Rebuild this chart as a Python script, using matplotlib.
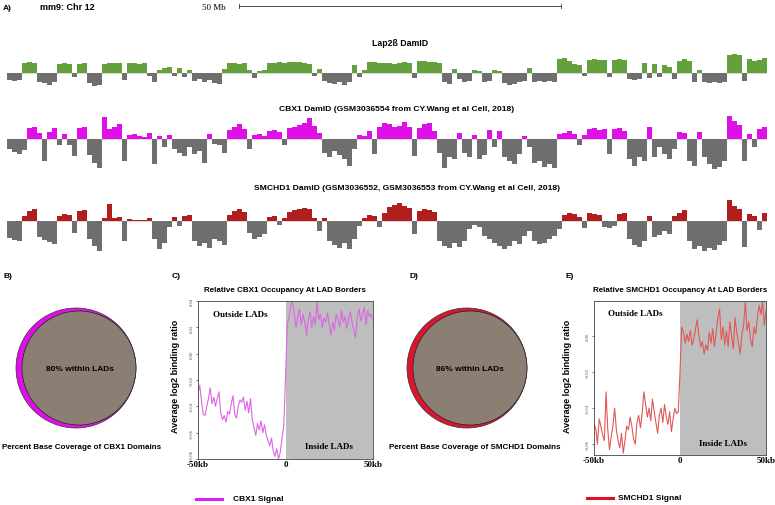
import numpy as np
import matplotlib
matplotlib.use("Agg")
import matplotlib.pyplot as plt
from matplotlib.patches import Circle
from matplotlib.lines import Line2D

# ---- genome tracks (chr12, 5 px bins ~0.78 Mb each), heights in arbitrary units ----
lap2b = [-7, -8, -7, 10, 11, 10, -9, -10, -12, -9, 9, 10, 9, -4, 9, 10, -10, -13, -12, 9,
         10, 10, 10, -7, 10, 10, 9, 10, -3, -9, 3, 5, 6, -3, 5, -4, 3, -8, -6, -9,
         -7, -10, -11, 4, 10, 10, 9, 10, 3, -5, 2, 3, 10, 10, 11, 10, 11, 11, 11, 10,
         9, -3, 4, -8, -10, -11, -9, -12, -9, 8, -4, 3, 11, 11, 10, 10, 10, 9, 10, 11,
         10, -5, 12, 12, 11, 11, 10, -9, -11, 4, -6, -9, -8, 3, 2, -9, -8, 3, 2, -10,
         -12, -11, -9, -8, 5, -9, -8, -9, -8, -9, 14, 15, 12, 9, 8, -3, 13, 14, 13, 13,
         -4, 13, 14, 13, -6, -7, -6, 10, -5, 9, -4, 8, 6, -6, 12, 14, 12, -9, 3, -9,
         -10, -9, -10, -9, 18, 19, 18, -8, 14, 12, 13, 15]
cbx1 = [-10, -13, -15, -11, 11, 12, 6, -22, 7, 11, -6, 5, -6, -17, 11, 12, -16, -24, -29, 22,
        10, 12, 15, -22, 4, 5, 3, 2, 6, -25, 3, -8, 4, -10, -14, -17, -8, -15, -12, -24,
        5, -5, -6, -14, 9, 12, 15, 10, -10, 4, 5, 3, 8, 9, 7, -6, 11, 12, 14, 16,
        21, 13, 6, -14, -18, -12, -16, -20, -27, -10, 4, 3, 8, -15, 12, 16, 15, 12, 13, 17,
        12, -17, 11, 15, 16, 8, -14, -29, -18, -20, 6, -14, -18, 4, -20, -16, 9, -8, 8, -18,
        -22, -25, -15, 3, -8, -24, -22, -28, -25, -29, 5, 6, 8, 5, -6, 4, 10, 11, 9, 10,
        -15, 10, 11, 8, -20, -27, -18, -22, 12, -18, -8, -15, -20, -10, 7, 6, -22, -27, 7, -18,
        -25, -30, -28, -22, 23, 18, 14, -22, 5, -8, 10, 12]
smchd1 = [-17, -19, -20, 5, 10, 12, -16, -19, -21, -23, 5, 7, 6, -12, 10, 11, -18, -25, -30, 3,
          17, 3, 4, -20, 2, 1, 1, 1, 3, -18, -28, -22, -6, 4, -5, 5, 6, -20, -25, -22,
          -27, -18, -20, -24, 6, 10, 12, 9, -12, -18, -16, -13, 4, 5, -4, 3, 9, 11, 12, 13,
          12, 3, -10, 3, -20, -24, -27, -22, -28, -18, -5, 3, 6, 5, -6, 8, 14, 16, 18, 15,
          13, -13, 10, 12, 11, 9, -20, -25, -27, -22, -26, -20, -8, -4, -6, -15, -18, -22, -25, -28,
          -25, -20, -23, -15, -10, -20, -23, -22, -18, -15, -8, 6, 8, 7, 4, -7, 8, 7, 6, -6,
          -7, -5, 7, 8, -18, -24, -26, -20, 5, -16, -14, -10, -13, 5, 8, 11, -20, -28, -25, -30,
          -27, -29, -24, -20, 21, 15, 12, -26, 7, 5, -9, 8]

# ---- average profiles at LAD borders (1 kb steps, -50..50 kb) ----
kb = np.arange(-50, 51)
cbx1_profile = [-0.030, -0.024, -0.036, -0.046, -0.047, -0.040, -0.034, -0.026, -0.038, -0.033,
                -0.040, -0.034, -0.029, -0.045, -0.050, -0.047, -0.052, -0.044, -0.046, -0.038,
                -0.032, -0.046, -0.049, -0.040, -0.035, -0.037, -0.033, -0.043, -0.036, -0.045,
                -0.034, -0.050, -0.056, -0.062, -0.053, -0.058, -0.051, -0.060, -0.054, -0.062,
                -0.066, -0.070, -0.064, -0.074, -0.078, -0.072, -0.080, -0.075, -0.064, -0.055,
                -0.018, 0.022, 0.028, 0.036, 0.040, 0.030, 0.020, 0.028, 0.034, 0.022,
                0.030, 0.024, 0.014, 0.026, 0.032, 0.020, 0.028, 0.022, 0.039, 0.026,
                0.030, 0.020, 0.027, 0.024, 0.031, 0.022, 0.014, 0.024, 0.018, 0.030,
                0.026, 0.020, 0.033, 0.024, 0.028, 0.019, 0.026, 0.032, 0.024, 0.018,
                0.012, 0.028, 0.034, 0.025, 0.030, 0.035, 0.022, 0.033, 0.028, 0.030,
                0.025]
smchd1_profile = [-0.049, -0.051, -0.060, -0.046, -0.050, -0.055, -0.058, -0.031, -0.052, -0.063,
                  -0.056, -0.050, -0.040, -0.052, -0.058, -0.062, -0.054, -0.065, -0.058, -0.050,
                  -0.052, -0.045, -0.050, -0.057, -0.060, -0.048, -0.044, -0.051, -0.043, -0.031,
                  -0.038, -0.045, -0.040, -0.047, -0.035, -0.042, -0.048, -0.054, -0.044, -0.040,
                  -0.048, -0.038, -0.045, -0.049, -0.042, -0.053, -0.046, -0.040, -0.043, -0.042,
                  -0.020, 0.005, 0.002, -0.004, 0.001, -0.003, 0.003, -0.005, -0.002, 0.004,
                  0.009, 0.000, -0.006, -0.003, -0.010, -0.005, -0.008, 0.002, -0.004, 0.004,
                  -0.006, 0.002, 0.010, 0.015, -0.002, 0.005, -0.005, 0.003, -0.006, 0.008,
                  0.000, -0.007, 0.010, 0.002, -0.004, -0.010, 0.001, 0.006, 0.019, 0.003,
                  0.008, -0.002, -0.006, 0.005, 0.001, 0.010, 0.017, 0.012, 0.019, 0.006,
                  0.014]

W, H = 775, 506
BIN_MB = 5 * 50 / 322.0  # 50 Mb scale bar is 322 px wide
SANS = "Liberation Sans"
SERIF = "Liberation Serif"

fig = plt.figure(figsize=(W / 100, H / 100), dpi=100)


def fx(x):
    return x / W


def fy(y):
    return 1 - y / H


def px_axes(left, top, right, bottom):
    return fig.add_axes([fx(left), fy(bottom), (right - left) / W, (bottom - top) / H])


def label(x, y, s, size=6, weight="bold", family=SANS, **kw):
    fig.text(fx(x), fy(y), s, fontsize=size, fontweight=weight, family=family,
             va="center", **kw)


# ---- panel A: tracks ----
n = len(lap2b)
pos = np.arange(n) * BIN_MB
tracks = [
    (lap2b, "#64a03c", 52, 92, (-18, 22)),
    (cbx1, "#de10e6", 110, 175, (-35, 30)),
    (smchd1, "#b01e1e", 196, 256, (-34, 26)),
]
for vals, col, top, bot, yl in tracks:
    ax = px_axes(7, top, 767, bot)
    v = np.array(vals, dtype=float)
    colors = np.where(v >= 0, col, "#6f6f6f")
    ax.axhline(0, color="#c8c8c8", lw=0.5, zorder=0)
    ax.bar(pos, v, width=BIN_MB, align="edge", color=colors, linewidth=0)
    ax.set_xlim(0, n * BIN_MB)
    ax.set_ylim(*yl)
    ax.axis("off")

# scale bar
sax = px_axes(7, 0, 767, 15)
sax.set_xlim(0, n * BIN_MB)
sax.set_ylim(0, 15)
sb0 = (239 - 7) * 50 / 322.0
sax.plot([sb0, sb0 + 50], [8, 8], color="#333333", lw=0.6)
sax.plot([sb0, sb0], [6, 10], color="#333333", lw=0.6)
sax.plot([sb0 + 50, sb0 + 50], [6, 10], color="#333333", lw=0.6)
sax.axis("off")

label(3, 8, "A)")
label(40, 8, "mm9: Chr 12", size=6.5)
label(214, 8, "50 Mb", size=6.5, weight="normal", family=SERIF, ha="center")
label(400, 43, "Lap2ß DamID", size=6.3, ha="center")
label(397, 110, "CBX1 DamID (GSM3036554 from CY.Wang et al Cell, 2018)", size=6.1, ha="center")
label(407, 189, "SMCHD1 DamID (GSM3036552, GSM3036553 from CY.Wang et al Cell, 2018)", size=6.1, ha="center")

# ---- panels B and D: overlap circles ----
cax = px_axes(0, 270, W, 440)
cax.set_xlim(0, W)
cax.set_ylim(440, 270)
cax.set_aspect("equal")
cax.axis("off")
for cx, col in [(76, "#e010e8"), (467, "#dc1430")]:
    cax.add_patch(Circle((cx, 369), 60, facecolor=col, edgecolor="#333333", lw=0.5))
    cax.add_patch(Circle((cx + 3, 369), 57, facecolor="#8b7e73", edgecolor="#222222", lw=0.5))
label(80, 370, "80% within LADs", ha="center")
label(470, 370, "86% within LADs", ha="center")
label(4, 277, "B)")
label(2, 448, "Percent Base Coverage of CBX1 Domains", size=5.8)
label(410, 277, "D)")
label(389, 448, "Percent Base Coverage of SMCHD1 Domains", size=5.8)


# ---- panels C and E: border profiles ----
def profile(box, yvals, color, ylim, yticks, title, tx, ylx, tag, tagx):
    ax = px_axes(*box)
    ax.axvspan(0, 50, color="#bebebe", lw=0)
    ax.plot(kb, yvals, color=color, lw=0.8)
    ax.set_xlim(-50, 50)
    ax.set_ylim(*ylim)
    ax.set_yticks(yticks)
    ylabs = ax.set_yticklabels(["%.2f" % t for t in yticks], rotation=90, va="center",
                               fontsize=3.5, family=SERIF, color="#555555")
    if yticks[0] == ylim[0]:
        # lowest label sits on the corner: lift it clear of the x labels
        ylabs[0].set_va("bottom")
    ax.set_xticks([-50, 0, 50])
    ax.set_xticklabels(["-50kb", "0", "50kb"], fontsize=6.5, family=SERIF, fontweight="bold")
    ax.tick_params(axis="x", length=0, pad=1)
    ax.tick_params(axis="y", length=1.5, width=0.4, pad=1.5)
    for s in ax.spines.values():
        s.set_linewidth(0.6)
        s.set_color("#444444")
    ax.text(0.24, 0.92, "Outside LADs", transform=ax.transAxes, ha="center", va="center",
            fontsize=6.5, family=SERIF, fontweight="bold")
    ax.text(0.75, 0.08, "Inside LADs", transform=ax.transAxes, ha="center", va="center",
            fontsize=6.5, family=SERIF, fontweight="bold")
    label(tx, 291, title, size=5.8, ha="center")
    fig.text(fx(ylx), fy(376), "Average log2 binding ratio", rotation=90, ha="center",
             va="center", fontsize=6.5, fontweight="bold", family=SANS)
    label(tagx, 277, tag)


profile((198, 302, 373, 460), cbx1_profile, "#dc66e4", (-0.08, 0.04),
        [-0.08, -0.06, -0.04, -0.02, 0.00, 0.02, 0.04],
        "Relative CBX1 Occupancy At LAD Borders", 285, 175, "C)", 172)
profile((594, 302, 766, 456), smchd1_profile, "#e05858", (-0.066, 0.0194),
        [-0.06, -0.04, -0.02, 0.00],
        "Relative SMCHD1 Occupancy At LAD Borders", 680, 568, "E)", 565)

# ---- legends ----
fig.add_artist(Line2D([fx(196), fx(222)], [fy(500), fy(500)], color="#dd22ee", lw=2.2))
label(233, 500, "CBX1 Signal", size=6)
fig.add_artist(Line2D([fx(587), fx(613)], [fy(499), fy(499)], color="#dd1122", lw=2.2))
label(618, 499, "SMCHD1 Signal", size=6)

fig.savefig("out.png", dpi=100)
